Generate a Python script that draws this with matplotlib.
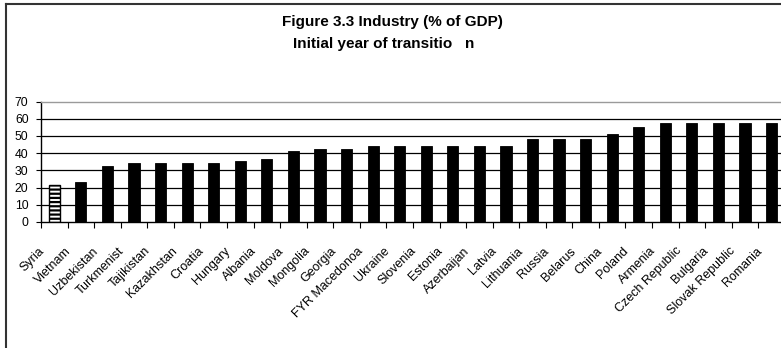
import matplotlib
matplotlib.use("Agg")
import matplotlib.pyplot as plt
from matplotlib.lines import Line2D
from matplotlib.transforms import ScaledTranslation
import numpy as np

countries = ["Syria", "Vietnam", "Uzbekistan", "Turkmenist", "Tajikistan",
             "Kazakhstan", "Croatia", "Hungary", "Albania", "Moldova",
             "Mongolia", "Georgia", "FYR Macedonoa", "Ukraine", "Slovenia",
             "Estonia", "Azerbaijan", "Latvia", "Lithuania", "Russia",
             "Belarus", "China", "Poland", "Armenia", "Czech Republic",
             "Bulgaria", "Slovak Republic", "Romania"]
industry_share = [21.5, 23, 32.5, 34, 34, 34, 34, 35.5, 36.5, 41,
                  42.5, 42.5, 44, 44, 44, 44, 44, 44, 48, 48,
                  48, 51, 55, 57.5, 57.5, 57.5, 57.5, 57.5]
y_ticks = [0, 10, 20, 30, 40, 50, 60, 70]

plt.rcParams["font.family"] = ["Liberation Sans", "DejaVu Sans"]
plt.rcParams["hatch.linewidth"] = 1.6
plt.rcParams["hatch.color"] = "black"

W, H = 781, 348
fig = plt.figure(figsize=(W / 100, H / 100), dpi=100)

left, bottom, top = 41 / W, (H - 222) / H, (H - 101.5) / H
ax = fig.add_axes([left, bottom, 1.005 - left, top - bottom])

x = np.arange(len(countries))
bars = ax.bar(x, industry_share, width=0.42, color="black",
              edgecolor="black", linewidth=0.6, zorder=3)
# first country highlighted with striped fill
bars[0].set_facecolor("white")
bars[0].set_hatch("----")
bars[0].set_edgecolor("black")
bars[0].set_linewidth(1.0)

ax.set_xlim(-0.5, len(countries) - 0.5)
ax.set_ylim(0, 70)
ax.set_yticks(y_ticks)
ax.tick_params(axis="y", length=3.5, width=0.8, pad=5.5, labelsize=8.8,
               direction="out", colors="black")

# horizontal gridlines
for v in y_ticks[1:-1]:
    ax.axhline(v, color="black", lw=0.9, zorder=1)

# category labels centred, tick marks on category boundaries
ax.set_xticks(x)
ax.set_xticklabels(countries, rotation=45, ha="right", va="top",
                   rotation_mode="anchor", fontsize=9)
ax.tick_params(axis="x", which="major", length=0, pad=0)
ax.set_xticks(np.arange(-0.5, len(countries), 1.0), minor=True)
ax.tick_params(axis="x", which="minor", length=4, width=0.8,
               direction="out", colors="black")
offset = ScaledTranslation(-0.16, -0.23, fig.dpi_scale_trans)
for lab in ax.get_xticklabels():
    lab.set_transform(lab.get_transform() + offset)

for side in ("left", "bottom"):
    ax.spines[side].set_color("black")
    ax.spines[side].set_linewidth(1.0)
ax.spines["top"].set_color("#9a9a9a")
ax.spines["top"].set_linewidth(1.0)
ax.spines["right"].set_visible(False)

# chart title
fig.text(392 / W, 1 - 22 / H, "Figure 3.3 Industry (% of GDP)",
         ha="center", va="center", fontsize=11, fontweight="bold")
fig.text(384 / W, 1 - 44 / H, "Initial year of transitio   n",
         ha="center", va="center", fontsize=11, fontweight="bold")

# chart-area frame (left and top edges)
fig.add_artist(Line2D([5.5 / W, 5.5 / W], [0, 1 - 3.5 / H],
                      transform=fig.transFigure, color="#333333", lw=1.5))
fig.add_artist(Line2D([5.5 / W, 1.0], [1 - 3.5 / H, 1 - 3.5 / H],
                      transform=fig.transFigure, color="#333333", lw=1.5))

fig.savefig("out.png", dpi=100)
